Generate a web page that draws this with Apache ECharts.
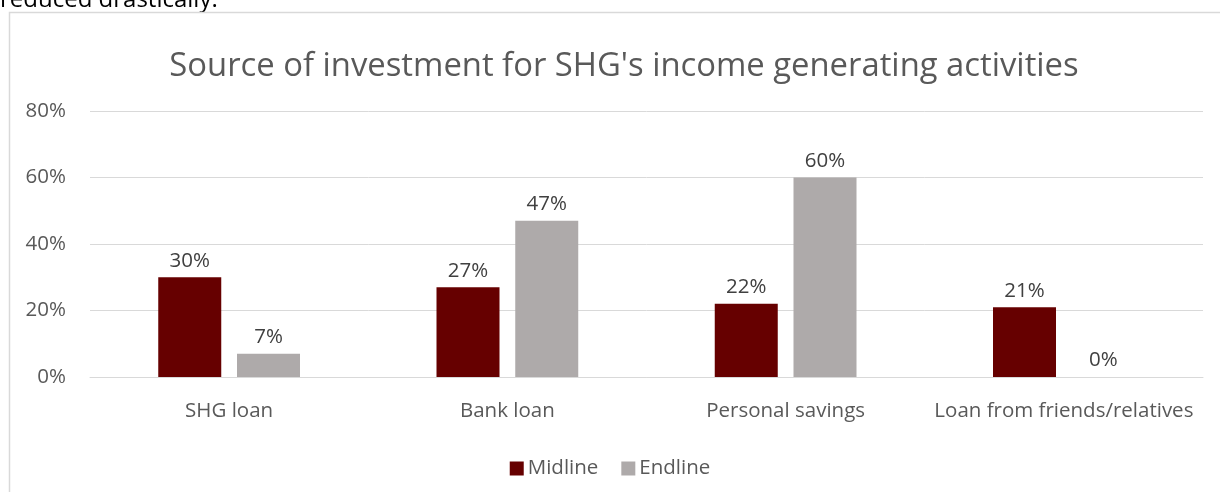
<!DOCTYPE html>
<html>
<head>
<meta charset="utf-8">
<script src="https://cdn.jsdelivr.net/npm/echarts@6/dist/echarts.min.js"></script>
<style>
  html, body { margin: 0; padding: 0; background: #ffffff; }
  #chart { width: 1220px; height: 492px; }
</style>
</head>
<body>
<div id="chart"></div>
<script>
// Investment sources for SHG income-generating activities
const categories = ['SHG loan', 'Bank loan', 'Personal savings', 'Loan from friends/relatives'];
const midline = [30, 27, 22, 21];
const endline = [7, 47, 60, 0];
const yTicks = [0, 20, 40, 60, 80];

const FONT = '"Open Sans", "Noto Sans", sans-serif';
const TXT = 20.5;
const chart = echarts.init(document.getElementById('chart'), null, { renderer: 'canvas' });

const labelStyle = {
  show: true,
  position: 'top',
  distance: 6,
  color: '#404040',
  fontFamily: FONT,
  fontSize: TXT,
  formatter: p => p.value + '%'
};

chart.setOption({
  animation: false,
  backgroundColor: '#ffffff',
  title: {
    text: "Source of investment for SHG's income generating activities",
    left: 619,
    top: 45,
    textAlign: 'center',
    textStyle: { color: '#595959', fontFamily: FONT, fontSize: 32.8, fontWeight: 'normal' }
  },
  legend: {
    data: ['Midline', 'Endline'],
    left: 'center',
    top: 453,
    itemWidth: 14,
    itemHeight: 14,
    itemGap: 23,
    icon: 'rect',
    textStyle: { color: '#595959', fontFamily: FONT, fontSize: TXT, padding: [0, 0, 0, -1] }
  },
  grid: { left: 90, right: 17, top: 111, bottom: 115, containLabel: false },
  xAxis: {
    type: 'category',
    data: categories,
    axisLine: { lineStyle: { color: '#d9d9d9', width: 1 } },
    axisTick: { show: false },
    axisLabel: { interval: 0, color: '#595959', fontFamily: FONT, fontSize: TXT, margin: 24 }
  },
  yAxis: {
    type: 'value',
    min: yTicks[0],
    max: yTicks[yTicks.length - 1],
    interval: 20,
    axisLine: { show: false },
    axisTick: { show: false },
    splitLine: { lineStyle: { color: '#d9d9d9', width: 1 } },
    axisLabel: { color: '#595959', fontFamily: FONT, fontSize: TXT, margin: 24, formatter: v => v + '%' }
  },
  series: [
    {
      name: 'Midline',
      type: 'bar',
      data: midline,
      barWidth: 63,
      barGap: '25%',
      itemStyle: { color: '#660000' },
      label: labelStyle
    },
    {
      name: 'Endline',
      type: 'bar',
      data: endline,
      barWidth: 63,
      itemStyle: { color: '#aeaaaa' },
      label: labelStyle
    }
  ],
  graphic: [
    {
      type: 'text',
      left: 0,
      top: -12,
      style: { text: 'reduced drastically.', fill: '#000000', font: '24px ' + FONT }
    },
    {
      type: 'polyline',
      shape: { points: [[9.5, 500], [9.5, 12.5], [1230, 12.5]] },
      style: { stroke: '#d9d9d9', lineWidth: 1.5, fill: 'none' },
      silent: true
    }
  ]
});
</script>
</body>
</html>
